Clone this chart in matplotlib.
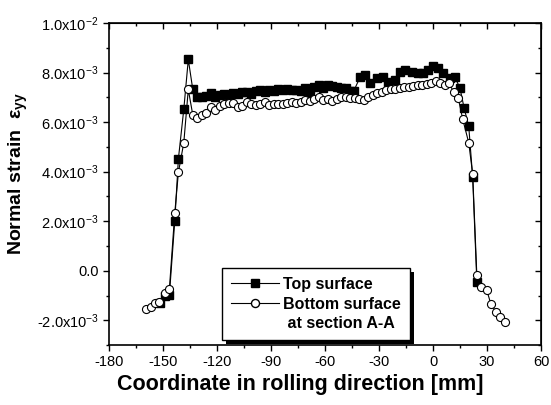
import numpy as np
import matplotlib
matplotlib.use("Agg")
import matplotlib.pyplot as plt
from matplotlib.lines import Line2D
from matplotlib.patches import Rectangle
from matplotlib.transforms import IdentityTransform
from matplotlib.ticker import MultipleLocator

plt.rcParams['font.family'] = ['Liberation Sans', 'DejaVu Sans']
plt.rcParams['mathtext.default'] = 'regular'

# top surface (filled squares), strain in units of 1e-3
top_x = [-151.7, -149.1, -146.5, -143.5, -141.5, -138.5, -136.0, -133.5, -131.0,
         -128.5, -126.0, -123.5, -121.0, -118.5, -116.0, -113.5, -111.0, -108.5,
         -106.0, -103.5, -101.0, -98.5, -96.0, -93.5, -91.0, -88.5, -86.0, -83.5,
         -81.0, -78.5, -76.0, -73.5, -71.0, -68.5, -66.0, -63.5, -61.0, -58.5,
         -56.0, -53.5, -51.0, -48.5, -46.0, -44.0, -40.6, -37.8, -35.0, -31.3,
         -27.6, -24.8, -21.1, -18.3, -15.6, -11.8, -8.2, -5.4, -2.6, 0.2, 2.9,
         5.7, 9.4, 12.2, 15.0, 17.2, 19.8, 22.0, 24.3]
top_y = [-1.29, -1.00, -0.97, 2.02, 4.52, 6.52, 8.53, 7.32, 7.03,
         7.00, 7.05, 7.19, 7.00, 7.10, 7.12, 7.08, 7.18, 7.12,
         7.20, 7.22, 7.15, 7.25, 7.28, 7.20, 7.30, 7.25, 7.32, 7.28,
         7.35, 7.30, 7.30, 7.25, 7.36, 7.12, 7.40, 7.48, 7.36, 7.50,
         7.46, 7.40, 7.38, 7.36, 7.27, 7.27, 7.81, 7.90, 7.57, 7.77,
         7.83, 7.63, 7.70, 8.03, 8.10, 8.03, 8.00, 7.97, 8.10, 8.26, 8.17,
         8.00, 7.77, 7.81, 7.36, 6.58, 5.84, 3.77, -0.44]

# bottom surface at section A-A (open circles)
bot_x = [-159.4, -156.8, -154.4, -152.2, -149.1, -146.5, -143.5, -141.5, -138.5,
         -136.0, -133.5, -131.0, -128.5, -126.0, -123.5, -121.0, -118.5, -116.0,
         -113.5, -111.0, -108.5, -106.0, -103.5, -101.0, -98.5, -96.0, -93.5,
         -91.0, -88.5, -86.0, -83.5, -81.0, -78.5, -76.0, -73.5, -71.0, -68.5,
         -66.0, -63.5, -61.0, -58.5, -56.0, -53.5, -51.0, -48.5, -46.0, -43.5,
         -41.0, -38.5, -36.0, -33.5, -31.0, -28.5, -26.0, -23.5, -21.0, -18.5,
         -16.0, -13.5, -11.0, -8.5, -6.0, -3.5, -1.0, 1.5, 4.0, 6.5, 9.0, 11.5,
         14.0, 16.5, 19.8, 22.0, 24.3, 26.8, 29.8, 32.1, 35.0, 37.2, 39.8]
bot_y = [-1.55, -1.45, -1.30, -1.25, -0.91, -0.73, 2.34, 3.97, 5.17,
         7.32, 6.29, 6.15, 6.29, 6.35, 6.62, 6.51, 6.65, 6.72,
         6.76, 6.76, 6.60, 6.65, 6.82, 6.75, 6.70, 6.75, 6.80,
         6.70, 6.75, 6.75, 6.72, 6.76, 6.80, 6.78, 6.82, 6.90, 6.85,
         6.92, 7.00, 6.89, 6.92, 6.85, 6.95, 7.03, 7.00, 6.98, 6.98,
         6.95, 6.88, 7.02, 7.10, 7.18, 7.23, 7.28, 7.32, 7.33, 7.36,
         7.40, 7.43, 7.45, 7.48, 7.50, 7.55, 7.60, 7.67, 7.57, 7.50, 7.57, 7.20,
         6.96, 6.11, 5.17, 3.90, -0.17, -0.65, -0.78, -1.34, -1.66, -1.86, -2.06]

xticks = [-180, -150, -120, -90, -60, -30, 0, 30, 60]
yticks = [-2e-3, 0.0, 2e-3, 4e-3, 6e-3, 8e-3, 1e-2]
ytick_labels = [r'-2.0x10$^{-3}$', '0.0', r'2.0x10$^{-3}$', r'4.0x10$^{-3}$',
                r'6.0x10$^{-3}$', r'8.0x10$^{-3}$', r'1.0x10$^{-2}$']

fig = plt.figure(figsize=(5.51, 4.05), dpi=100)
ax = fig.add_axes([0.198, 0.148, 0.784, 0.795])

ax.plot(top_x, np.array(top_y) * 1e-3, '-s', color='black', lw=0.8,
        ms=5.2, mfc='black', mec='black', zorder=2)
ax.plot(bot_x, np.array(bot_y) * 1e-3, '-o', color='black', lw=0.8,
        ms=5.8, mfc='white', mec='black', mew=0.8, zorder=3)

ax.set_xlim(-180, 60)
ax.set_ylim(-3e-3, 1e-2)
ax.set_xticks(xticks)
ax.set_xticklabels([str(t) for t in xticks])
ax.set_yticks(yticks)
ax.set_yticklabels(ytick_labels)
ax.xaxis.set_minor_locator(MultipleLocator(15))
ax.yaxis.set_minor_locator(MultipleLocator(1e-3))
ax.tick_params(which='both', direction='out', labelsize=10.5, width=1)
ax.tick_params(which='major', length=4)
ax.tick_params(which='minor', length=2.5)

# mirrored ticks pointing inward on top and right
secx = ax.secondary_xaxis('top')
secx.set_xticks(xticks)
secx.xaxis.set_minor_locator(MultipleLocator(15))
secx.tick_params(which='both', direction='in', labeltop=False, width=1)
secx.tick_params(which='major', length=4)
secx.tick_params(which='minor', length=2.5)
secy = ax.secondary_yaxis('right')
secy.set_yticks(yticks)
secy.yaxis.set_minor_locator(MultipleLocator(1e-3))
secy.tick_params(which='both', direction='in', labelright=False, width=1)
secy.tick_params(which='major', length=4)
secy.tick_params(which='minor', length=2.5)

for s in ax.spines.values():
    s.set_linewidth(1.2)

ax.set_xlabel('Coordinate in rolling direction [mm]', fontsize=15.5,
              fontweight='bold')
ax.xaxis.set_label_coords(0.443, -0.09)
ax.set_ylabel(r'Normal strain  $\varepsilon_{yy}$', fontsize=14,
              fontweight='bold')
ax.yaxis.set_label_coords(-0.182, 0.533)

handles = [
    Line2D([], [], color='black', lw=0.8, marker='s', ms=5.2, mfc='black'),
    Line2D([], [], color='black', lw=0.8, marker='o', ms=5.8, mfc='white'),
    Line2D([], [], color='none'),
]
labels = ['Top surface', 'Bottom surface', ' at section A-A']
leg = ax.legend(handles, labels, loc='lower left',
                bbox_to_anchor=(0.261, 0.015), borderaxespad=0,
                prop={'weight': 'bold', 'size': 11.5},
                frameon=True, fancybox=False, edgecolor='black',
                facecolor='white', framealpha=1,
                handlelength=3.0, handletextpad=0.3, labelspacing=0.3,
                borderpad=0.55)
leg.get_frame().set_linewidth(1.0)

# solid offset shadow behind the legend box
fig.canvas.draw()
bb = leg.get_window_extent()
ax.add_patch(Rectangle((bb.x0 + 4, bb.y0 - 4), bb.width, bb.height,
                       transform=IdentityTransform(), facecolor='black',
                       edgecolor='none', zorder=4.9, clip_on=False))

fig.savefig('out.png', dpi=100)
